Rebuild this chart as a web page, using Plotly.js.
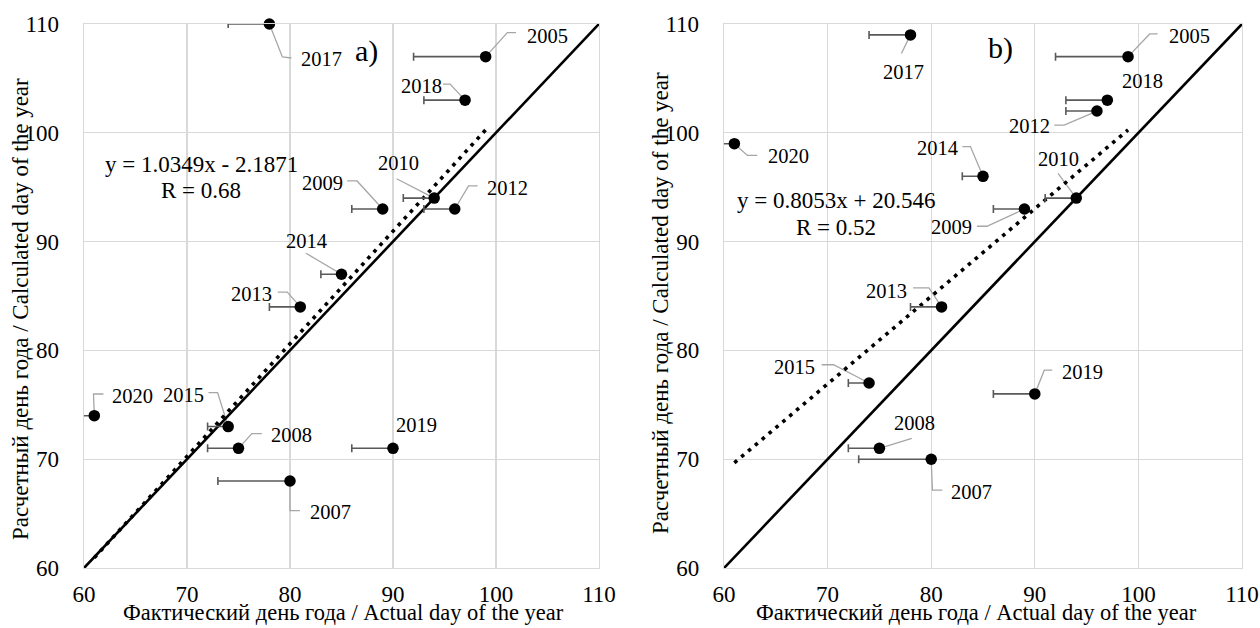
<!DOCTYPE html>
<html><head><meta charset="utf-8">
<script src="https://cdn.plot.ly/plotly-3.0.1.min.js"></script>
<style>html,body{margin:0;padding:0;background:#fff}#chart{width:1260px;height:628px}</style>
</head><body><div id="chart"></div>
<script>
// ---- data ----
const years     = ['2005','2007','2008','2009','2010','2012','2013','2014','2015','2017','2018','2019','2020'];
const actualDay = [99, 80, 75, 89, 94, 96, 81, 85, 74, 78, 97, 90, 61];
const calcDayA  = [107, 68, 71, 93, 94, 93, 84, 87, 73, 110, 103, 71, 74];
const calcDayB  = [107, 70, 71, 93, 94, 102, 84, 96, 77, 109, 103, 76, 99];
const errMinus  = [7, 7, 3, 3, 3, 3, 3, 2, 2, 4, 4, 4, 3];
const trendA = {slope: 1.0349, intercept: -2.1871, r: 0.68};
const trendB = {slope: 0.8053, intercept: 20.546, r: 0.52};
const axisTicks = [60, 70, 80, 90, 100, 110];
const panelTags = ['a)', 'b)'];
const xTitle = 'Фактический день года / Actual day of the year';
const yTitle = 'Расчетный день года / Calculated day of the year';

// ---- label placement (pixel offsets from point; dy positive = down) ----
const labelsA = {
  '2005': {d:[62,-21],   p:[[0,0],[21.7,-24],[30.4,-24]]},
  '2007': {d:[40.6,31],  p:[[0,0],[0,29.7],[9.9,29.7]]},
  '2008': {d:[52.8,-13.7], p:[[0,0],[13.4,-14.7],[23.3,-14.7]]},
  '2009': {d:[-60.3,-26.3], p:[[0,0],[-25.6,-28],[-35.5,-28]]},
  '2010': {d:[-35.5,-35], p:[[0,0],[-37.5,-19.3]]},
  '2012': {d:[52.4,-20.7], p:[[0,0],[13.8,-23],[22.9,-23]]},
  '2013': {d:[-48.5,-13], p:[[0,0],[-13,-14.7],[-22.5,-14.7]]},
  '2014': {d:[-35.1,-33.3], p:[[0,0],[-35.5,-21]]},
  '2015': {d:[-44.6,-31.7], p:[[0,0],[-10.6,-34],[-19.7,-34]]},
  '2017': {d:[52,35],    p:[[0,0],[13,33],[22,34]]},
  '2018': {d:[-43.8,-13.7], p:[[0,0],[-15,-16],[-22,-16]]},
  '2019': {d:[24,-23.7], p:null},
  '2020': {d:[38.6,-20], p:[[0,0],[-0.8,-21.7],[9.1,-21.7]]}
};
const labelsB = {
  '2005': {d:[61.3,-20.3], p:[[0,0],[21.7,-22.7],[29.6,-22.7]]},
  '2007': {d:[39.9,32.7], p:[[0,0],[1.2,31],[11.1,31]]},
  '2008': {d:[35.2,-25], p:[[0,0],[32.4,-10]]},
  '2009': {d:[-73.1,18], p:[[0,0],[-37.5,17.3],[-47.4,17.3]]},
  '2010': {d:[-18.2,-39], p:[[0,0],[-18.2,-24.7]]},
  '2012': {d:[-67.6,15], p:[[0,0],[-32.8,14],[-42.7,14]]},
  '2013': {d:[-55.3,-16.3], p:[[0,0],[-12.6,-19],[-28.5,-19]]},
  '2014': {d:[-45.5,-28.7], p:[[0,0],[-12.6,-29.7],[-20.6,-29.7]]},
  '2015': {d:[-74.3,-15.7], p:[[0,0],[-35.6,-18.3],[-47.4,-18.3]]},
  '2017': {d:[-6.7,37], p:[[0,0],[-9.1,18.7]]},
  '2018': {d:[35.2,-19], p:null},
  '2019': {d:[47.8,-22], p:[[0,0],[9.5,-23.7],[17.4,-23.7]]},
  '2020': {d:[54.5,12.7], p:[[0,0],[13,11.7],[22.9,11.7]]}
};

const FONT = "'Liberation Serif', 'Times New Roman', Times, serif";
const traces = [], shapes = [], annotations = [];
const xmin = Math.min(...actualDay), xmax = Math.max(...actualDay);
const amin = axisTicks[0], amax = axisTicks[axisTicks.length-1];

function fmtEq(t){
  const sign = t.intercept < 0 ? ' - ' : ' + ';
  return 'y = ' + t.slope + 'x' + sign + Math.abs(t.intercept);
}

function panel(calc, trend, labels, ax, ay, oax, oay, tag, tagPos, eqPos, titlePos){
  traces.push({x:[amin, amax], y:[amin, amax], xaxis:ax, yaxis:ay, mode:'lines',
    line:{color:'#000', width:2.6}, hoverinfo:'skip', showlegend:false});
  traces.push({x:[xmin, xmax], y:[trend.slope*xmin+trend.intercept, trend.slope*xmax+trend.intercept],
    xaxis:ax, yaxis:ay, mode:'lines', line:{color:'#000', width:3.6, dash:'3.6px,5.4px'},
    hoverinfo:'skip', showlegend:false});
  traces.push({x:actualDay, y:calc, xaxis:ax, yaxis:ay, mode:'markers',
    marker:{size:4, opacity:0}, showlegend:false,
    error_x:{type:'data', symmetric:false, array:actualDay.map(()=>0), arrayminus:errMinus,
      color:'#595959', thickness:1.6, width:4}});
  traces.push({x:actualDay, y:calc, xaxis:oax, yaxis:oay, mode:'markers', cliponaxis:false,
    marker:{size:11.5, color:'#000'}, showlegend:false, text:years});
  years.forEach((yrs, i) => {
    const L = labels[yrs];
    annotations.push({x:actualDay[i], y:calc[i], xref:ax, yref:ay, text:yrs, showarrow:false,
      xshift:L.d[0], yshift:-L.d[1], xanchor:'center', yanchor:'middle',
      font:{family:FONT, size:20.5, color:'#000'}});
    if (L.p) {
      const path = L.p.map((pt, k) => (k ? 'L' : 'M') + pt[0] + ',' + (-pt[1])).join(' ');
      shapes.push({type:'path', xref:ax, yref:ay, xsizemode:'pixel', ysizemode:'pixel',
        xanchor:actualDay[i], yanchor:calc[i], path:path, layer:'between',
        line:{color:'#a6a6a6', width:1.3}});
    }
  });
  annotations.push({x:tagPos[0], y:tagPos[1], xref:ax, yref:ay, text:tag, showarrow:false,
    font:{family:FONT, size:30, color:'#000'}});
  annotations.push({x:eqPos[0], y:eqPos[1], xref:ax, yref:ay, text:fmtEq(trend), showarrow:false,
    font:{family:FONT, size:23, color:'#000'}});
  annotations.push({x:eqPos[0], y:eqPos[2], xref:ax, yref:ay, text:'R = ' + trend.r, showarrow:false,
    font:{family:FONT, size:23, color:'#000'}});
  // axis titles
  annotations.push({xref:'paper', yref:'paper', x:titlePos[0], y:titlePos[1], text:yTitle,
    textangle:-90, showarrow:false, xanchor:'center', yanchor:'middle',
    font:{family:FONT, size:23, color:'#000'}});
  annotations.push({xref:'paper', yref:'paper', x:titlePos[2], y:titlePos[3], text:xTitle,
    showarrow:false, xanchor:'center', yanchor:'middle', borderpad:0,
    font:{family:FONT, size:22.5, color:'#000'}});
}

panel(calcDayA, trendA, labelsA, 'x', 'y', 'x3', 'y3', panelTags[0], [87.4, 107.5], [71.4, 97.1, 94.7],
  [-0.0553, 0.476, 0.2245, -0.0825]);
panel(calcDayB, trendB, labelsB, 'x2', 'y2', 'x4', 'y4', panelTags[1], [86.7, 107.8], [70.8, 93.8, 91.3],
  [0.4974, 0.487, 0.7703, -0.0825]);

function xaxisCfg(domain, anchor){
  return {domain:domain, anchor:anchor, range:[amin, amax], tickvals:axisTicks, ticktext:axisTicks.map(String),
    showgrid:true, gridcolor:'#d9d9d9', gridwidth:1.3, zeroline:false,
    showline:true, linecolor:'#d9d9d9', linewidth:1.3, mirror:true, ticks:'',
    ticklabelstandoff:5, tickfont:{family:FONT, size:23, color:'#000'}};
}
function yaxisCfg(anchor){
  return {anchor:anchor, range:[amin, amax], tickvals:axisTicks, ticktext:axisTicks.map(String),
    showgrid:true, gridcolor:'#d9d9d9', gridwidth:1.3, zeroline:false,
    showline:true, linecolor:'#d9d9d9', linewidth:1.3, mirror:true, ticks:'',
    ticklabelstandoff:19, tickfont:{family:FONT, size:23, color:'#000'}};
}
const ovl = (o, a) => ({overlaying:o, anchor:a, range:[amin, amax], visible:false, showgrid:false, zeroline:false});

const layout = {
  width:1260, height:628, margin:{l:84, r:18, t:24, b:60},
  paper_bgcolor:'#fff', plot_bgcolor:'#fff', showlegend:false,
  font:{family:FONT, color:'#000'},
  xaxis: xaxisCfg([0, 0.4447], 'y'),
  yaxis: yaxisCfg('x'),
  xaxis2: xaxisCfg([0.5527, 1], 'y2'),
  yaxis2: yaxisCfg('x2'),
  xaxis3: ovl('x', 'y3'), yaxis3: ovl('y', 'x3'),
  xaxis4: ovl('x2', 'y4'), yaxis4: ovl('y2', 'x4'),
  shapes: shapes, annotations: annotations
};
Plotly.newPlot('chart', traces, layout, {displayModeBar:false, staticPlot:true});
</script></body></html>
